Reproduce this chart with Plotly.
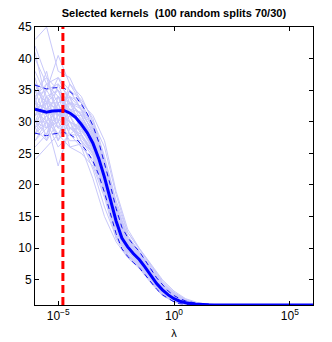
import plotly.graph_objects as go

# log10(lambda) grids
loglam_fine = [-6.0, -5.75, -5.5, -5.25, -5.0, -4.75, -4.5, -4.25, -4.0, -3.75, -3.5, -3.25,
               -3.0, -2.75, -2.5, -2.25, -2.0, -1.75, -1.5, -1.25, -1.0, -0.75, -0.5, -0.25,
               0.0, 0.25, 0.5, 0.75, 1.0, 1.5, 2.0, 3.0, 4.0, 5.0, 6.0]
mean_k = [32.0, 31.7, 31.5, 31.7, 31.8, 31.8, 31.4, 30.7, 29.6, 28.3, 26.6, 24.2,
          21.2, 17.8, 14.3, 11.6, 10.2, 9.1, 8.2, 7.0, 5.7, 4.4, 3.4, 2.6,
          2.0, 1.6, 1.35, 1.2, 1.1, 1.03, 1.0, 1.0, 1.0, 1.0, 1.0]
std_k = [3.8, 3.75, 3.7, 3.65, 3.6, 3.5, 3.4, 3.3, 3.2, 3.0, 2.8, 2.6,
         2.4, 2.2, 2.0, 1.7, 1.5, 1.4, 1.3, 1.2, 1.0, 0.9, 0.8, 0.6,
         0.5, 0.4, 0.3, 0.2, 0.15, 0.05, 0.0, 0.0, 0.0, 0.0, 0.0]

loglam_coarse = [-6.0, -5.5, -5.0, -4.5, -4.0, -3.5, -3.0, -2.5, -2.0, -1.5, -1.0, -0.5,
                 0.0, 0.5, 1.0, 1.5, 2.0]
splits = [
    [43, 45, 38, 37, 33, 29, 23, 16, 11, 9, 6.5, 4, 2.5, 1.5, 1.1, 1, 1],
    [36, 35, 40.5, 36, 34, 30, 24, 17, 12, 9.5, 7, 4.5, 2.8, 1.8, 1.2, 1, 1],
    [28, 30, 23, 29, 28, 25, 20, 13, 9, 7.5, 5, 3, 1.8, 1.2, 1, 1, 1],
    [33, 32, 31, 30, 27, 25, 19, 13.5, 10, 8, 5.5, 3.2, 2, 1.3, 1.1, 1, 1],
    [30, 28, 34, 33, 31, 27, 22, 15, 11, 8.5, 6, 3.6, 2.2, 1.4, 1, 1, 1],
    [35, 33, 29, 31, 30, 28, 22.5, 15.5, 10.5, 9, 6.2, 3.8, 2.3, 1.6, 1.2, 1, 1],
    [29, 31, 32, 28, 26, 24, 19.5, 12.5, 9.5, 7.5, 5, 2.8, 1.7, 1.1, 1, 1, 1],
    [34, 36, 33, 34, 32, 28, 21, 14, 10, 8, 6, 3.5, 2, 1.3, 1, 1, 1],
    [27, 29, 30, 32, 29, 26, 20.5, 14, 9.8, 8.3, 5.4, 3.1, 1.9, 1.2, 1, 1, 1],
    [38, 34, 35, 33, 31, 27.5, 22, 15, 10.8, 8.8, 6.3, 3.9, 2.4, 1.5, 1.2, 1, 1],
    [31, 33, 27, 30, 29, 26, 21, 14.5, 9.9, 7.8, 5.2, 3.3, 1.8, 1.3, 1, 1, 1],
    [32, 30, 36, 31, 28, 25.5, 20, 13, 10, 8, 5.8, 3, 2.1, 1.4, 1.1, 1, 1],
    [29, 34, 31, 35, 32, 29, 23.5, 16.5, 11.5, 9.2, 6.6, 4.2, 2.6, 1.7, 1.3, 1.1, 1],
    [34, 27, 30, 27, 27, 24.5, 19, 12, 8.8, 7, 4.8, 2.7, 1.6, 1.1, 1, 1, 1],
    [30, 32, 34, 29, 30, 26.5, 21.5, 14.8, 10.4, 8.5, 5.9, 3.4, 2, 1.3, 1.1, 1, 1],
    [37, 31, 28, 32, 30.5, 27, 21.8, 15.2, 10.6, 8.4, 5.6, 3.5, 2.2, 1.4, 1, 1, 1],
    [31, 35, 32, 30, 29, 26, 20.8, 14.2, 10.1, 8.1, 5.6, 3.3, 2, 1.3, 1, 1, 1],
    [33, 29, 33, 34, 30, 27.2, 21.6, 14.6, 10.3, 8.3, 5.8, 3.5, 2.1, 1.4, 1.1, 1, 1],
    [35, 37, 31, 32, 31.5, 28.5, 23, 16, 11.2, 9, 6.4, 4, 2.4, 1.6, 1.2, 1, 1],
    [28, 31, 29, 29, 27.5, 25, 19.8, 13.2, 9.4, 7.6, 5.1, 2.9, 1.7, 1.2, 1, 1, 1],
    [32, 33, 35, 30, 28.5, 26.2, 21, 14, 10, 8.2, 5.7, 3.4, 2, 1.3, 1.1, 1, 1],
    [30, 30, 26, 28, 29.5, 26.8, 21.4, 14.6, 10.2, 8, 5.5, 3.2, 1.9, 1.3, 1, 1, 1],
    [36, 32, 34, 31, 31, 27.8, 22.2, 15.4, 10.7, 8.6, 6.1, 3.7, 2.3, 1.5, 1.1, 1, 1],
    [26, 28, 31, 33, 29, 25.8, 20.2, 13.6, 9.6, 7.9, 5.3, 3.1, 1.8, 1.2, 1, 1, 1],
    [40, 36, 37, 35, 33.5, 30.5, 24.5, 17.5, 12.5, 10, 7.4, 4.8, 3, 1.9, 1.3, 1.1, 1],
    [24, 26, 28, 26, 25, 23, 18, 11.5, 8.5, 6.8, 4.5, 2.5, 1.5, 1.1, 1, 1, 1],
    [33, 38, 30, 36, 33, 29.5, 24, 16.8, 11.8, 9.4, 6.8, 4.3, 2.7, 1.7, 1.2, 1, 1],
    [29, 27, 33, 26, 26.5, 23.5, 18.5, 12.2, 9, 7.2, 4.7, 2.6, 1.6, 1.1, 1, 1, 1],
    [41, 33, 32, 33, 32.5, 29.2, 23.2, 16.2, 11.4, 9.1, 6.5, 4.1, 2.5, 1.6, 1.2, 1, 1],
    [30, 34, 29, 34, 28, 24.8, 19.6, 12.8, 9.2, 7.3, 4.9, 2.8, 1.7, 1.1, 1, 1, 1],
    [34, 35, 36, 34, 33, 31, 27, 19, 13, 10, 7.5, 5, 3.2, 2, 1.4, 1.1, 1],
    [30, 29, 31, 30, 26, 21, 15, 11, 8.5, 7, 4.6, 2.6, 1.5, 1.1, 1, 1, 1],
    [36, 33, 37, 33, 32, 30, 26, 18.5, 12.5, 9.8, 7.2, 4.6, 2.9, 1.8, 1.3, 1.1, 1],
    [27, 30, 28, 31, 27, 22.5, 16.5, 11.8, 8.9, 7.1, 4.7, 2.7, 1.6, 1.1, 1, 1, 1],
    [32, 36, 34, 32, 30, 27.5, 22.8, 15.8, 11, 8.9, 6.3, 3.8, 2.3, 1.5, 1.1, 1, 1],
    [35, 30, 32, 29, 28.8, 25.6, 20.4, 13.9, 9.9, 8.1, 5.5, 3.3, 2, 1.3, 1, 1, 1],
    [31, 32, 30, 35, 31.8, 28.2, 22.6, 15.6, 10.9, 8.7, 6.2, 3.7, 2.2, 1.4, 1.1, 1, 1],
    [28, 33, 33, 28, 27.8, 25.2, 20, 13.4, 9.5, 7.7, 5.2, 3, 1.8, 1.2, 1, 1, 1],
    [42, 37, 35, 31, 30.2, 27.4, 22, 14.9, 10.5, 8.5, 6, 3.6, 2.1, 1.4, 1, 1, 1],
    [33, 31, 27, 33, 31.2, 28.8, 23.8, 16.6, 11.6, 9.3, 6.7, 4.2, 2.6, 1.7, 1.2, 1, 1],
]

selected_lambda = 1.6e-5
x_tickvals = [1e-5, 1e0, 1e5]
x_ticktext = ["10<sup>\u22125</sup>", "10<sup>0</sup>", "10<sup>5</sup>"]
y_tickvals = [5, 10, 15, 20, 25, 30, 35, 40, 45]

lam_fine = [10 ** v for v in loglam_fine]
lam_coarse = [10 ** v for v in loglam_coarse]
upper = [m + s for m, s in zip(mean_k, std_k)]
lower = [m - s for m, s in zip(mean_k, std_k)]

fig = go.Figure()
for s in splits:
    fig.add_trace(go.Scatter(x=lam_coarse, y=s, mode="lines",
                             line=dict(color="rgb(200,200,250)", width=1),
                             showlegend=False, hoverinfo="skip"))
for band in (upper, lower):
    fig.add_trace(go.Scatter(x=lam_fine, y=band, mode="lines",
                             line=dict(color="rgb(20,20,240)", width=1, dash="5px,4px"),
                             showlegend=False))
fig.add_trace(go.Scatter(x=lam_fine, y=mean_k, mode="lines",
                         line=dict(color="rgb(0,0,255)", width=3),
                         showlegend=False))
fig.add_trace(go.Scatter(x=[selected_lambda, selected_lambda], y=[1, 45], mode="lines",
                         line=dict(color="rgb(255,0,0)", width=3, dash="8px,4px"),
                         showlegend=False))

axis_common = dict(showline=True, linecolor="black", linewidth=1, mirror="ticks",
                   ticks="inside", ticklen=4, tickcolor="black", showgrid=False,
                   zeroline=False, automargin=False,
                   tickfont=dict(family="Liberation Sans, Arial", size=12, color="black"))
# page body has an 8px margin, so the figure is sized/margined to compensate
fig.update_layout(
    width=324, height=334,
    margin=dict(l=27, r=19, t=19, b=37, autoexpand=False),
    plot_bgcolor="white", paper_bgcolor="white",
    title=dict(text="<b>Selected kernels&nbsp; (100 random splits 70/30)</b>",
               x=0.512, xanchor="center", y=0.985, yanchor="middle", automargin=False,
               font=dict(family="Liberation Sans, Arial", size=11, color="black")),
    xaxis=dict(type="log", range=[-6, 6], tickvals=x_tickvals, ticktext=x_ticktext,
               title=dict(text="\u03bb", standoff=6,
                          font=dict(family="Liberation Sans, Arial", size=11, color="black")),
               **axis_common),
    yaxis=dict(range=[1, 45], tickvals=y_tickvals, **axis_common),
)
fig.write_html("out.html")
